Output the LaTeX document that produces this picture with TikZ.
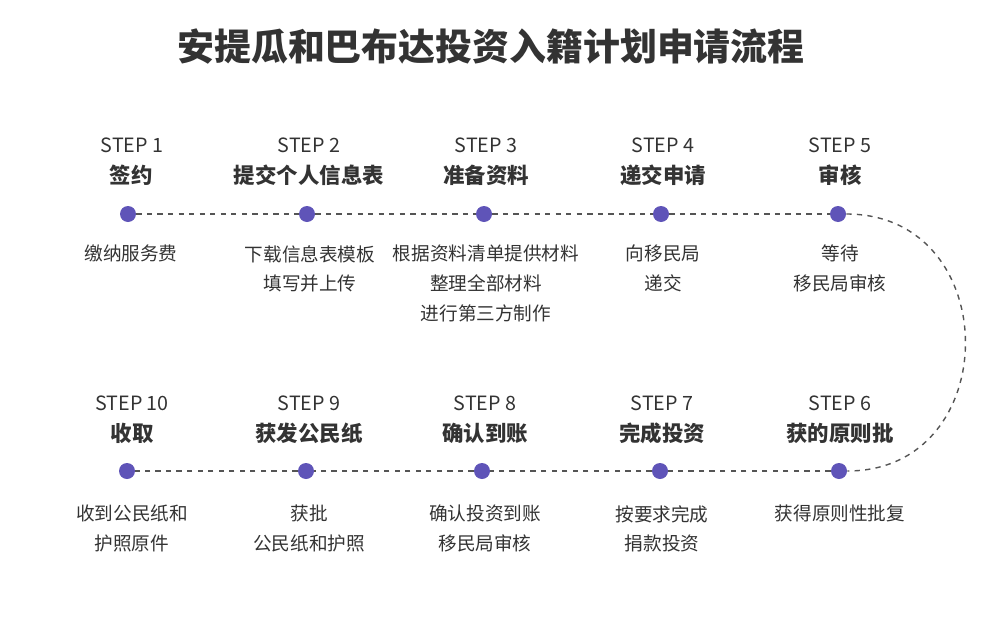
\documentclass[tikz,border=0pt]{standalone}
\usepackage{fontspec}
\setmainfont{Noto Sans CJK SC}
\usepackage{xcolor}
\definecolor{dotpurple}{HTML}{5F54B8}
\definecolor{inkgray}{HTML}{333333}
\definecolor{linegray}{HTML}{555555}
\usetikzlibrary{positioning}

\tikzset{
  dot/.style={circle, fill=dotpurple, minimum size=16*0.02cm, inner sep=0pt},
  steplabel/.style={font=\fontsize{11.2}{13}\selectfont, text=inkgray},
  stepname/.style={font=\fontsize{12.2}{14}\selectfont\bfseries, text=inkgray},
  desc/.style={font=\fontsize{10.6}{17}\selectfont, text=inkgray, align=center, anchor=north},
  track/.style={dashed, thick, linegray}
}

\begin{document}
\begin{tikzpicture}[x=0.02cm, y=-0.02cm]
  \useasboundingbox (0,0) rectangle (995,619);

  % Title
  \node[font=\fontsize{21}{24}\selectfont\bfseries, text=inkgray] (title) at (491,47) {安提瓜和巴布达投资入籍计划申请流程};

  % Upper row
  \node[dot] (d1) at (128,214) {};
  \node[dot] (d2) at (307,214) {};
  \node[dot] (d3) at (484,214) {};
  \node[dot] (d4) at (661,214) {};
  \node[dot] (d5) at (838,214) {};

  % Lower row
  \node[dot] (d6) at (839,471) {};
  \node[dot] (d7) at (660,471) {};
  \node[dot] (d8) at (482,471) {};
  \node[dot] (d9) at (306,471) {};
  \node[dot] (d10) at (127,471) {};

  % Track
  \draw[track] (d1) -- (d2) -- (d3) -- (d4) -- (d5);
  \draw[track] (d5) .. controls (1005,214) and (1005,471) .. (d6);
  \draw[track] (d6) -- (d7) -- (d8) -- (d9) -- (d10);

  % Step labels
  \node[steplabel] (s1) at (132,145) {STEP 1};
  \node[stepname] (n1) at (131,175) {签约};
  \node[desc] (t1) at (131,239) {缴纳服务费};

  \node[steplabel] (s2) at (309,145) {STEP 2};
  \node[stepname] (n2) at (309,175) {提交个人信息表};
  \node[desc] (t2) at (310,239) {下载信息表模板\\填写并上传};

  \node[steplabel] (s3) at (486,145) {STEP 3};
  \node[stepname] (n3) at (486,175) {准备资料};
  \node[desc] (t3) at (486,239) {根据资料清单提供材料\\整理全部材料\\进行第三方制作};

  \node[steplabel] (s4) at (663,145) {STEP 4};
  \node[stepname] (n4) at (663,175) {递交申请};
  \node[desc] (t4) at (663,239) {向移民局\\递交};

  \node[steplabel] (s5) at (840,145) {STEP 5};
  \node[stepname] (n5) at (840,175) {审核};
  \node[desc] (t5) at (840,239) {等待\\移民局审核};

  \node[steplabel] (s6) at (840,403) {STEP 6};
  \node[stepname] (n6) at (840,433) {获的原则批};
  \node[desc] (t6) at (840,499) {获得原则性批复};

  \node[steplabel] (s7) at (662,403) {STEP 7};
  \node[stepname] (n7) at (662,433) {完成投资};
  \node[desc] (t7) at (662,499) {按要求完成\\捐款投资};

  \node[steplabel] (s8) at (485,403) {STEP 8};
  \node[stepname] (n8) at (485,433) {确认到账};
  \node[desc] (t8) at (485,499) {确认投资到账\\移民局审核};

  \node[steplabel] (s9) at (309,403) {STEP 9};
  \node[stepname] (n9) at (309,433) {获发公民纸};
  \node[desc] (t9) at (309,499) {获批\\公民纸和护照};

  \node[steplabel] (s10) at (132,403) {STEP 10};
  \node[stepname] (n10) at (132,433) {收取};
  \node[desc] (t10) at (132,499) {收到公民纸和\\护照原件};
\end{tikzpicture}
\end{document}
